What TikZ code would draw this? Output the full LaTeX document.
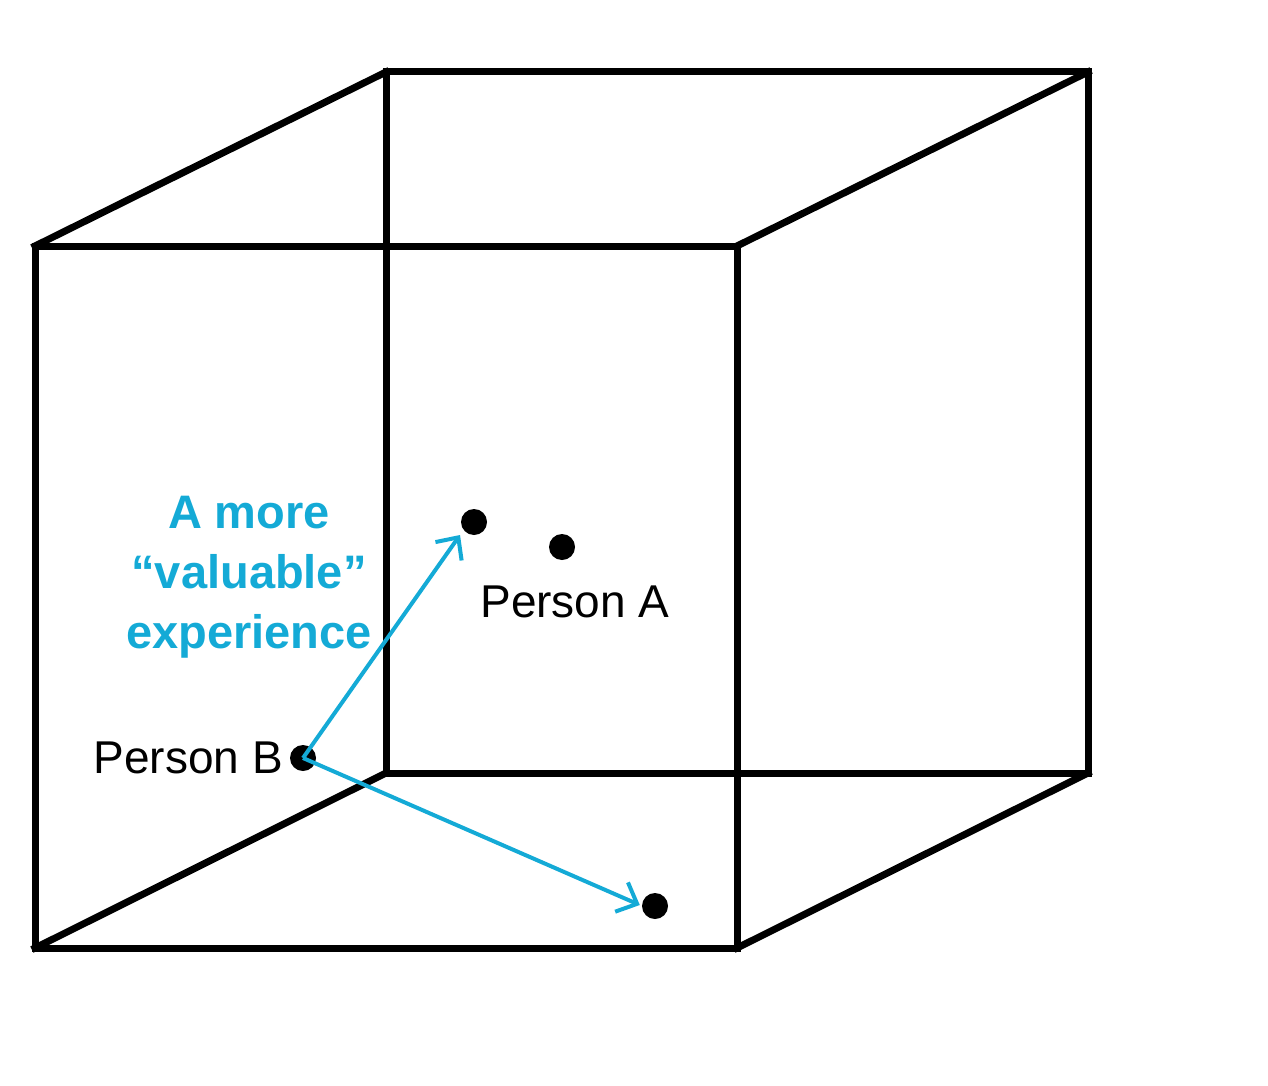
\documentclass[tikz,border=0pt]{standalone}
\usepackage{fontspec}
\setmainfont{Liberation Sans}
\usetikzlibrary{arrows.meta}
\definecolor{cyanblue}{RGB}{20,170,214}
\begin{document}
\begin{tikzpicture}[x=1pt,y=-1pt,
  edge/.style={line width=7pt,line cap=rect,line join=miter},
  dot/.style={circle,fill=black,inner sep=0pt,minimum size=26pt},
  lbl/.style={font=\fontsize{46}{56}\selectfont,inner sep=0pt},
  bluelbl/.style={font=\fontsize{47}{60}\selectfont\bfseries,text=cyanblue,align=center,inner sep=0pt},
  arr/.style={draw=cyanblue,line width=4pt,-{Straight Barb[length=17pt,width=32pt,line width=4pt]}}]
\useasboundingbox (0,0) rectangle (1268,1086);
% front face corners
\coordinate (f1) at (35,246);
\coordinate (f2) at (737,246);
\coordinate (f3) at (737,948);
\coordinate (f4) at (35,948);
% back face corners
\coordinate (b1) at (386,72);
\coordinate (b2) at (1088,72);
\coordinate (b3) at (1088,773);
\coordinate (b4) at (386,773);
\draw[edge] (b1) -- (b2) -- (b3) -- (b4) -- cycle;
\draw[edge] (f1) -- (f2) -- (f3) -- (f4) -- cycle;
\draw[edge] (f1) -- (b1);
\draw[edge] (f2) -- (b2);
\draw[edge] (f3) -- (b3);
\draw[edge] (f4) -- (b4);
% dots
\node[dot] (d1) at (474,522) {};
\node[dot] (d2) at (562,547) {};
\node[dot] (d3) at (655,906) {};
\node[dot] (pb) at (303,758) {};
% labels
\node[lbl,anchor=base] (la) at (575,617) {Person A};
\node[lbl,anchor=base east] (lb) at (283,773) {Person B};
\node[bluelbl,anchor=north] (val) at (249,496) {A more\\“valuable”\\experience};
% arrows
\draw[arr] (pb.center) -- ([shift={(-14,13)}]d1.center);
\draw[arr] (pb.center) -- ([shift={(-2,-1)}]d3.west);
\end{tikzpicture}
\end{document}
